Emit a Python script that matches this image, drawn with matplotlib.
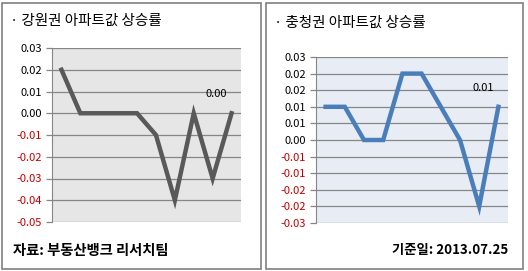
import numpy as np
import matplotlib.pyplot as plt
from matplotlib.patches import Rectangle

plt.rcParams['font.family'] = ['Noto Sans CJK KR', 'DejaVu Sans']

# data
months = list(range(10))
gangwon = [0.02, 0.00, 0.00, 0.00, 0.00, -0.01, -0.04, 0.00, -0.03, 0.00]
chungcheong = [0.01, 0.01, 0.00, 0.00, 0.02, 0.02, 0.01, 0.00, -0.02, 0.01]

gw_ticks = [0.03, 0.02, 0.01, 0.00, -0.01, -0.02, -0.03, -0.04, -0.05]
gw_labels = ['0.03', '0.02', '0.01', '0.00', '-0.01', '-0.02', '-0.03', '-0.04', '-0.05']
cc_ticks = [0.025, 0.02, 0.015, 0.01, 0.005, 0.0, -0.005, -0.01, -0.015, -0.02, -0.025]
cc_labels = ['0.03', '0.02', '0.02', '0.01', '0.01', '0.00',
             '-0.01', '-0.01', '-0.02', '-0.02', '-0.03']

W, H = 528, 271
fig = plt.figure(figsize=(W / 100, H / 100), dpi=100)


def px_rect(x0, y0, x1, y1):
    # pixel box (top-left origin) -> figure fraction [left, bottom, w, h]
    return [x0 / W, 1 - y1 / H, (x1 - x0) / W, (y1 - y0) / H]


# panel frames
for x0, x1 in [(2, 261), (266, 523)]:
    fig.patches.append(Rectangle((x0 / W, 2 / H), (x1 - x0) / W, 266 / H,
                                 transform=fig.transFigure, fill=False,
                                 edgecolor='#808080', linewidth=1.2))


def draw(ax, vals, ticks, labels, ylim, bg, color, last_label):
    ax.set_facecolor(bg)
    ax.plot(months, vals, color=color, linewidth=3.2, solid_joinstyle='miter')
    ax.set_xlim(-0.5, 9.5)
    ax.set_ylim(*ylim)
    ax.set_yticks(ticks)
    ax.set_yticklabels(labels)
    for t, lab in zip(ax.get_yticklabels(), labels):
        t.set_color('#c00000' if lab.startswith('-') else 'black')
    ax.set_xticks([])
    ax.grid(axis='y', color='#868686', linewidth=0.9)
    ax.set_axisbelow(True)
    for s in ['top', 'right', 'bottom']:
        ax.spines[s].set_visible(False)
    ax.spines['left'].set_color('#868686')
    ax.tick_params(axis='y', length=4, width=0.9, color='#868686',
                   labelsize=8, pad=3)
    ax.annotate(last_label, (months[-1], vals[-1]), xytext=(-11, 10),
                textcoords='offset points', ha='center', va='bottom',
                fontsize=8)


ax1 = fig.add_axes(px_rect(52, 48, 241, 222))
draw(ax1, gangwon, gw_ticks, gw_labels, (-0.05, 0.03), '#e6e6e6', '#595959', '0.00')

ax2 = fig.add_axes(px_rect(316, 57, 508, 223))
draw(ax2, chungcheong, cc_ticks, cc_labels, (-0.025, 0.025), '#e8edf5', '#4a7ebb', '0.01')

fig.text(10 / W, 1 - 21 / H, '· 강원권 아파트값 상승률', fontsize=10.5, va='center', ha='left')
fig.text(274 / W, 1 - 23 / H, '· 충청권 아파트값 상승률', fontsize=10.5, va='center', ha='left')
fig.text(13 / W, 1 - 251 / H, '자료: 부동산뱅크 리서치팀', fontsize=10.3, fontweight='bold',
         va='center', ha='left')
fig.text(508 / W, 1 - 250 / H, '기준일: 2013.07.25', fontsize=9.6, fontweight='bold',
         va='center', ha='right')

fig.savefig('out.png', dpi=100)
